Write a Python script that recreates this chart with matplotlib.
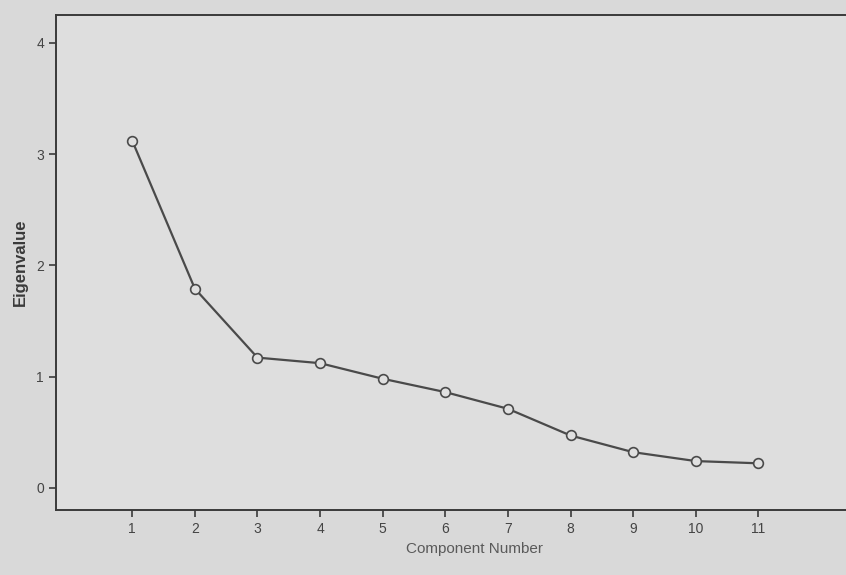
import matplotlib.pyplot as plt

components = [1, 2, 3, 4, 5, 6, 7, 8, 9, 10, 11]
eigenvalues = [3.12, 1.79, 1.17, 1.12, 0.98, 0.86, 0.71, 0.47, 0.32, 0.24, 0.22]
y_ticks = [0, 1, 2, 3, 4]

plt.rcParams['font.family'] = ['Liberation Sans', 'DejaVu Sans']

fig = plt.figure(figsize=(8.46, 5.75), dpi=100)
fig.patch.set_facecolor('#d9d9d9')
ax = fig.add_axes([0.066, 0.113, 0.934, 0.861])
ax.set_facecolor('#dedede')

ax.plot(components, eigenvalues, color='#4a4a4a', linewidth=1.6,
        marker='o', markersize=7, markerfacecolor='#e0e0e0',
        markeredgecolor='#4a4a4a', markeredgewidth=1.2)

ax.set_xlim(-0.22, 12.4)
ax.set_ylim(-0.2, 4.25)
ax.set_xticks(components)
ax.set_yticks(y_ticks)

for side in ['left', 'bottom', 'top']:
    ax.spines[side].set_color('#3a3a3a')
    ax.spines[side].set_linewidth(1.4)
ax.spines['right'].set_visible(False)

ax.tick_params(axis='both', colors='#3a3a3a', labelsize=10, width=1.2, length=5,
               labelcolor='#444444')

ax.set_ylabel('Eigenvalue', fontsize=12, fontweight='bold', color='#3a3a3a', labelpad=6)
ax.set_xlabel('Component Number', fontsize=11, color='#5a5a5a')
ax.xaxis.set_label_coords(0.53, -0.065)

plt.savefig('out.png', dpi=100, facecolor=fig.get_facecolor())
plt.close()
